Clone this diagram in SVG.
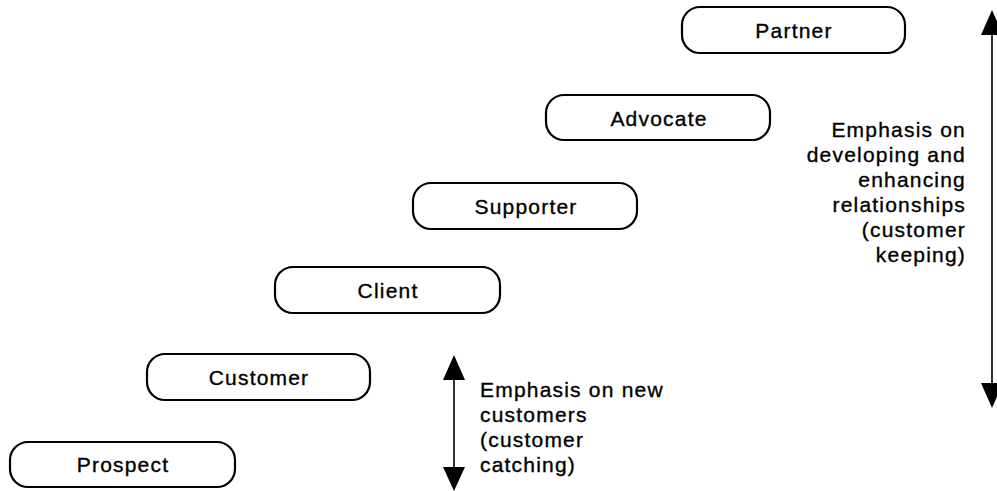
<svg xmlns="http://www.w3.org/2000/svg" width="997" height="491" viewBox="0 0 997 491">
<style>
.box{fill:#fff;stroke:#000;stroke-width:2.2}
.lbl{font-family:"Liberation Sans",Arial,sans-serif;font-size:21px;letter-spacing:1.2px;fill:#000;stroke:#000;stroke-width:0.35}
.mid{text-anchor:middle}
.end{text-anchor:end}
.ln{stroke:#000;stroke-width:1.6;fill:none}
.head{fill:#000}
</style>
<rect width="997" height="491" fill="#fff"/>
<g id="prospect"><rect class="box" x="10" y="442" width="225" height="45" rx="18"/><text class="lbl mid" x="123" y="472">Prospect</text></g>
<g id="customer"><rect class="box" x="147" y="354" width="223" height="46" rx="18"/><text class="lbl mid" x="259" y="385">Customer</text></g>
<g id="client"><rect class="box" x="275" y="267" width="225" height="46" rx="18"/><text class="lbl mid" x="388" y="298">Client</text></g>
<g id="supporter"><rect class="box" x="413" y="183" width="224" height="46" rx="18"/><text class="lbl mid" x="526" y="214">Supporter</text></g>
<g id="advocate"><rect class="box" x="546" y="95" width="224" height="45" rx="18"/><text class="lbl mid" x="659" y="126">Advocate</text></g>
<g id="partner"><rect class="box" x="682" y="7" width="223" height="46" rx="18"/><text class="lbl mid" x="794" y="38">Partner</text></g>
<g id="connectors">
<line class="ln" x1="454" y1="375" x2="454" y2="470"/>
<polygon class="head" points="454,355 443,380 465,380"/>
<polygon class="head" points="454,491 443,467 465,467"/>
<line class="ln" x1="992" y1="30" x2="992" y2="388"/>
<polygon class="head" points="992,10 981,35 1003,35"/>
<polygon class="head" points="992,408 981,383 1003,383"/>
</g>
<g id="note-new">
<text class="lbl" x="480" y="397">Emphasis on new</text>
<text class="lbl" x="480" y="422">customers</text>
<text class="lbl" x="480" y="447">(customer</text>
<text class="lbl" x="480" y="472">catching)</text>
</g>
<g id="note-keeping">
<text class="lbl end" x="966" y="137">Emphasis on</text>
<text class="lbl end" x="966" y="162">developing and</text>
<text class="lbl end" x="966" y="187">enhancing</text>
<text class="lbl end" x="966" y="212">relationships</text>
<text class="lbl end" x="966" y="237">(customer</text>
<text class="lbl end" x="966" y="262">keeping)</text>
</g>
</svg>
